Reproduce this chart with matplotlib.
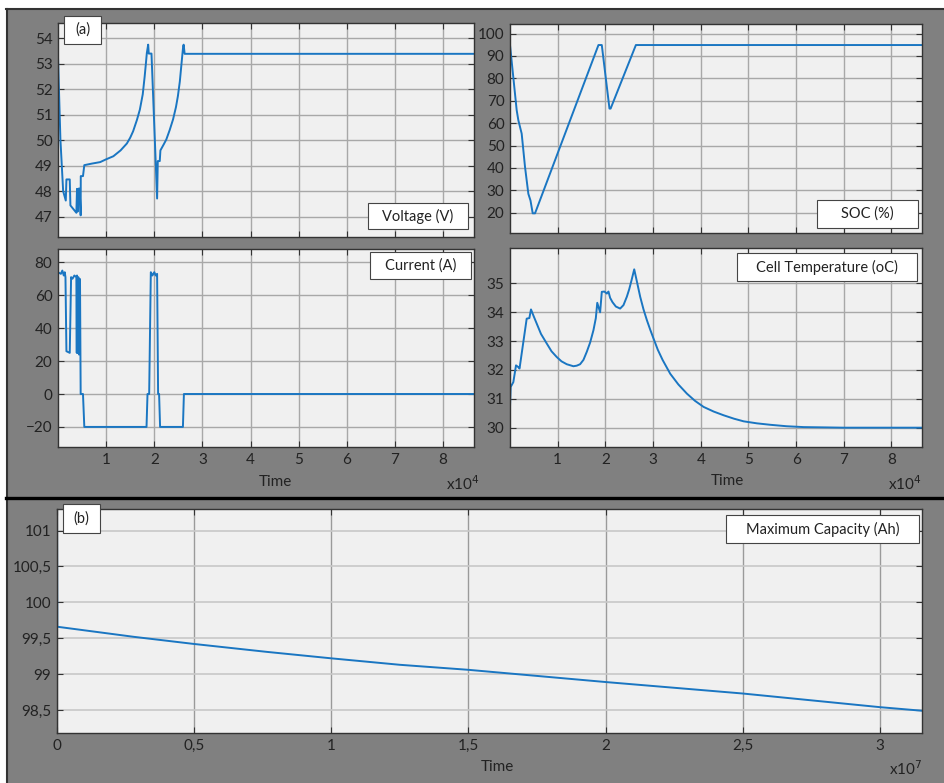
import matplotlib
matplotlib.use("Agg")
import matplotlib.pyplot as plt
from matplotlib.patches import Rectangle
from matplotlib.lines import Line2D

plt.rcParams["font.family"] = ["Lato", "DejaVu Sans"]

# ---- data (time in seconds) ----
volt_t = [0, 500, 1070, 1615, 1750, 2440, 2577, 3814, 3950, 4089, 4300, 4500, 4708,
          4730, 5189, 5464, 7000, 8760, 10000, 11500, 13000, 14300, 15000, 15600,
          16400, 17000, 17600, 18000, 18250, 18450, 18728, 18850, 19416, 20584,
          20722, 21134, 21271, 22000, 22500, 23200, 23900, 24500, 24900, 25300,
          25600, 25850, 26000, 26100, 26300, 86400]
volt_v = [53.27, 50.03, 48.0, 47.63, 48.46, 48.46, 47.44, 47.15, 48.09, 47.2, 48.1,
          48.1, 47.05, 48.59, 48.59, 49.02, 49.08, 49.14, 49.25, 49.37, 49.6, 49.87,
          50.1, 50.35, 50.8, 51.2, 51.8, 52.5, 53.0, 53.42, 53.75, 53.4, 53.4, 47.71,
          49.18, 49.18, 49.6, 49.85, 50.03, 50.4, 50.82, 51.3, 51.73, 52.3, 52.9,
          53.4, 53.69, 53.75, 53.39, 53.39]

soc_t = [0, 1400, 1750, 2450, 3150, 3850, 4300, 4760, 5250, 18550, 19250, 20860,
         21100, 26400, 86400]
soc_v = [94.9, 65.8, 61.3, 55.3, 40.4, 28.4, 25.4, 19.7, 19.7, 94.9, 94.9, 66.5,
         66.5, 94.9, 94.9]

cur_t = [0, 600, 900, 1200, 1400, 1550, 1750, 2440, 2720, 3000, 3400, 3814, 3900,
         3952, 4089, 4160, 4227, 4364, 4433, 4500, 4570, 4708, 5189, 5464,
         18385, 18591, 18935, 19278, 19600, 20000, 20300, 20584, 20790, 20996,
         21203, 25945, 26151, 86400]
cur_v = [74, 73, 75, 72, 74, 71, 26, 25, 71, 70, 72, 71, 25, 72, 25, 70, 71, 24, 25,
         70, 69, 0, 0, -20, -20, 0, 0, 74, 72, 74, 72, 73, 0, 0, -20, -20, 0, 0]

temp_t = [0, 140, 700, 1260, 1750, 2000, 2450, 3500, 4060, 4400, 5000, 5600, 6500,
          7700, 8700, 9800, 10800, 11900, 13300, 14000, 14700, 15400, 16100, 16800,
          17500, 18000, 18300, 18900, 19250, 19800, 20300, 20650, 21000, 21500,
          22200, 23100, 23800, 24500, 25000, 25500, 26050, 26700, 27300, 28000,
          28700, 29400, 30100, 31000, 32000, 33600, 35300, 37100, 38800, 40600,
          42700, 44800, 47000, 49000, 51800, 54600, 58000, 61600, 66000, 70000,
          86400]
temp_v = [30.72, 31.41, 31.58, 32.16, 32.1, 32.05, 32.57, 33.78, 33.8, 34.1, 33.85,
          33.61, 33.25, 32.92, 32.65, 32.45, 32.3, 32.2, 32.13, 32.15, 32.2, 32.35,
          32.63, 32.95, 33.38, 33.8, 34.33, 34.0, 34.71, 34.72, 34.65, 34.72, 34.5,
          34.35, 34.2, 34.13, 34.25, 34.54, 34.8, 35.12, 35.49, 35.0, 34.54, 34.1,
          33.73, 33.4, 33.09, 32.7, 32.35, 31.87, 31.5, 31.18, 30.93, 30.72, 30.56,
          30.43, 30.31, 30.22, 30.15, 30.10, 30.05, 30.02, 30.01, 30.0, 30.0]

cap_t = [0, 1e4, 2.79e6, 5e6, 7.65e6, 1e7, 1.25e7, 1.5e7, 2e7, 2.5e7, 3e7, 3.1536e7]
cap_v = [101.5, 99.66, 99.52, 99.42, 99.31, 99.22, 99.13, 99.06, 98.89, 98.73,
         98.54, 98.49]

day_ticks = [1e4, 2e4, 3e4, 4e4, 5e4, 6e4, 7e4, 8e4]
day_labels = ["1", "2", "3", "4", "5", "6", "7", "8"]
year_ticks = [0, 0.5e7, 1e7, 1.5e7, 2e7, 2.5e7, 3e7]
year_labels = ["0", "0,5", "1", "1,5", "2", "2,5", "3"]
cap_ticks = [98.5, 99, 99.5, 100, 100.5, 101]
cap_labels = ["98,5", "99", "99,5", "100", "100,5", "101"]

W, H = 944, 783
LINE = "#1a76c2"
TXT = "#222222"


def fx(x):
    return x / W


def fy(y):
    return 1 - y / H


def make_ax(fig, x0, y0, x1, y1):
    ax = fig.add_axes([fx(x0), fy(y1), fx(x1 - x0), (y1 - y0) / H])
    ax.set_facecolor("#f0f0f0")
    for s in ax.spines.values():
        s.set_color("#333333")
        s.set_linewidth(1.0)
    ax.tick_params(direction="in", length=4, right=True, top=True,
                   labelsize=11, colors="#333333", labelcolor=TXT, pad=4)
    ax.grid(True, color="#a8a8a8", linewidth=1.0)
    ax.set_axisbelow(True)
    return ax


def label_box(fig, x0, y0, x1, y1, text, size=10.5):
    fig.add_artist(Rectangle((fx(x0), fy(y1)), fx(x1 - x0), (y1 - y0) / H,
                             transform=fig.transFigure, facecolor="white",
                             edgecolor="#444444", linewidth=0.8, zorder=10))
    fig.text(fx((x0 + x1) / 2), fy((y0 + y1) / 2), text, ha="center", va="center",
             fontsize=size, color=TXT, zorder=11)


fig = plt.figure(figsize=(W / 100, H / 100), dpi=100)
fig.patch.set_facecolor("white")

# gray panel background and frame
fig.add_artist(Rectangle((fx(6), 0), 1 - fx(6), fy(9), transform=fig.transFigure,
                         facecolor="#808080", edgecolor="none", zorder=0))
fig.add_artist(Line2D([fx(6), 1], [fy(9), fy(9)], transform=fig.transFigure,
                      color="#333333", linewidth=1.5))
fig.add_artist(Line2D([fx(6.5), fx(6.5)], [0, fy(9)], transform=fig.transFigure,
                      color="#333333", linewidth=1.5))
fig.add_artist(Line2D([fx(6), 1], [fy(498), fy(498)], transform=fig.transFigure,
                      color="black", linewidth=2.4))

# voltage
ax_v = make_ax(fig, 58, 23, 474, 237)
ax_v.plot(volt_t, volt_v, color=LINE, linewidth=1.4)
ax_v.set_xlim(0, 86400)
ax_v.set_ylim(46.2, 54.6)
ax_v.set_yticks([47, 48, 49, 50, 51, 52, 53, 54])
ax_v.set_xticks(day_ticks)
ax_v.set_xticklabels([])

# SOC
ax_s = make_ax(fig, 510, 24, 922, 233)
ax_s.plot(soc_t, soc_v, color=LINE, linewidth=1.4)
ax_s.set_xlim(0, 86400)
ax_s.set_ylim(10.9, 104.3)
ax_s.set_yticks([20, 30, 40, 50, 60, 70, 80, 90, 100])
ax_s.set_xticks(day_ticks)
ax_s.set_xticklabels([])

# current
ax_i = make_ax(fig, 58, 249, 474, 447)
ax_i.plot(cur_t, cur_v, color=LINE, linewidth=1.4)
ax_i.set_xlim(0, 86400)
ax_i.set_ylim(-32.2, 88.1)
ax_i.set_yticks([-20, 0, 20, 40, 60, 80])
ax_i.set_xticks(day_ticks)
ax_i.set_xticklabels(day_labels)

# temperature
ax_t = make_ax(fig, 510, 248, 922, 447)
ax_t.plot(temp_t, temp_v, color=LINE, linewidth=1.4)
ax_t.set_xlim(0, 86400)
ax_t.set_ylim(29.33, 36.23)
ax_t.set_yticks([30, 31, 32, 33, 34, 35])
ax_t.set_xticks(day_ticks)
ax_t.set_xticklabels(day_labels)

# maximum capacity
ax_c = make_ax(fig, 57, 509, 922, 733)
ax_c.plot(cap_t, cap_v, color=LINE, linewidth=1.4)
ax_c.set_xlim(0, 3.1536e7)
ax_c.set_ylim(98.18, 101.3)
ax_c.set_yticks(cap_ticks)
ax_c.set_yticklabels(cap_labels)
ax_c.set_xticks(year_ticks)
ax_c.set_xticklabels(year_labels)
ax_c.grid(True, axis="y", color="#c8c8c8", linewidth=1.2)
ax_c.grid(True, axis="x", color="#9a9a9a", linewidth=1.0)

# axis labels and multipliers
for cx, cy in [(275, 482), (727, 481), (497, 767)]:
    fig.text(fx(cx), fy(cy), "Time", ha="center", va="center", fontsize=11, color=TXT)
for rx, ry, mult in [(480, 484, "4"), (922, 484, "4"), (922, 769, "7")]:
    fig.text(fx(rx), fy(ry), r"x10$^{" + mult + "}$", ha="right", va="center",
             fontsize=11, color=TXT, math_fontfamily="dejavusans")

# label boxes
label_box(fig, 64, 16, 101, 44, "(a)")
label_box(fig, 368, 203, 468, 229, "Voltage (V)")
label_box(fig, 817, 200, 918, 228, "SOC (%)")
label_box(fig, 370, 252, 471, 279, "Current (A)")
label_box(fig, 737, 253, 917, 281, "Cell Temperature (oC)")
label_box(fig, 63, 504, 100, 533, "(b)")
label_box(fig, 726, 515, 919, 543, "Maximum Capacity (Ah)")

fig.savefig("out.png", dpi=100)
